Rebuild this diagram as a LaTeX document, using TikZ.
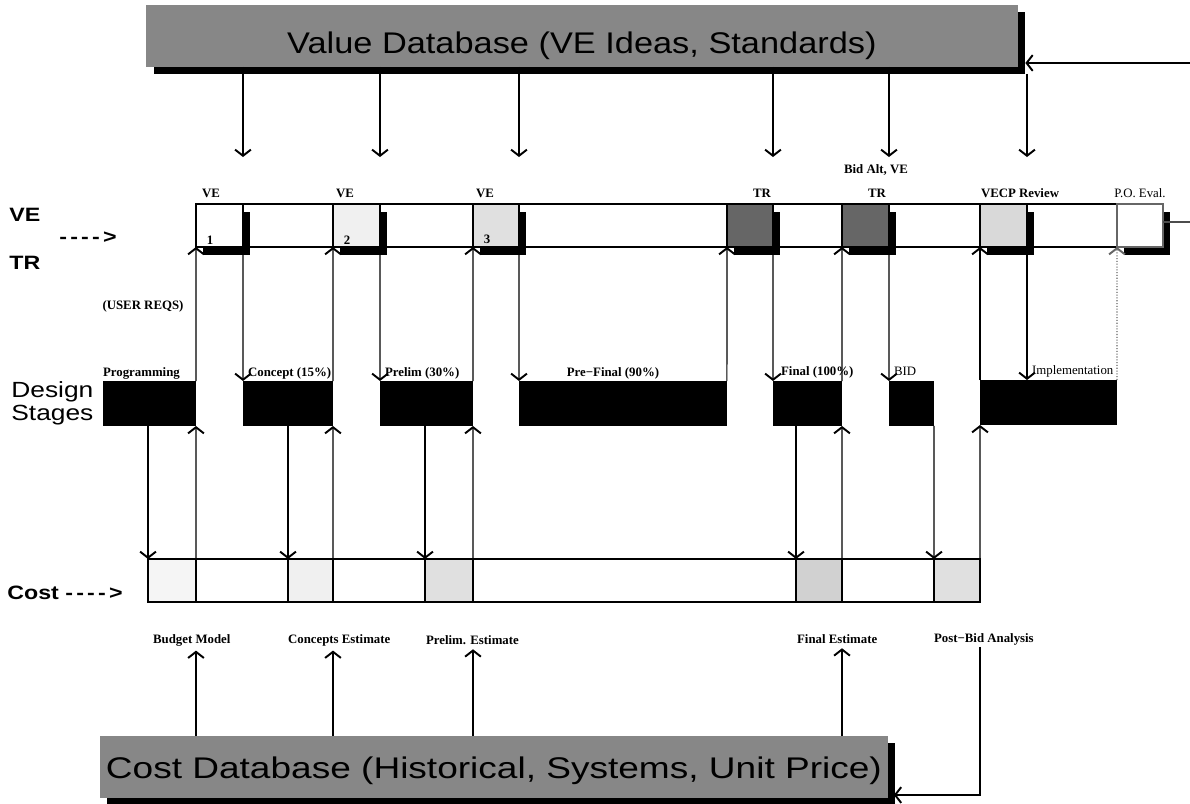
\documentclass[tikz,border=0pt]{standalone}
\usepackage{fontspec}
\setmainfont{Liberation Serif}
\newfontfamily\arialfont[FakeStretch=1.2]{Liberation Sans}
\newfontfamily\valfont[FakeStretch=1.15]{Liberation Sans}
\newfontfamily\costfont[FakeStretch=1.24]{Liberation Sans}
\usetikzlibrary{positioning,arrows.meta,shadows}

\begin{document}
\begin{tikzpicture}[x=0.02cm, y=-0.02cm,
    flow/.style={line width=0.6pt, -{Straight Barb[length=3.5pt,width=9pt,line width=1.1pt]}},
    db/.style={anchor=north west, fill=black!47, inner sep=0pt, outer sep=0pt,
      drop shadow={shadow xshift=0.15cm, shadow yshift=-0.14cm, fill=black, opacity=1}},
    stepbox/.style={anchor=north west, draw, fill=white, line width=0.6pt, minimum height=0.86cm,
      inner sep=0pt, outer sep=0pt,
      drop shadow={shadow xshift=0.14cm, shadow yshift=-0.16cm, fill=black, opacity=1}},
    stage/.style={anchor=north west, fill=black, minimum height=0.9cm, inner sep=0pt, outer sep=0pt},
    cell/.style={anchor=north west, draw, line width=0.6pt, minimum height=0.86cm, inner sep=0pt, outer sep=0pt},
    lbl/.style={font=\bfseries\fontsize{7.3}{8}\selectfont, inner sep=1pt},
    side/.style={font=\arialfont\bfseries\fontsize{11}{12}\selectfont, inner sep=0pt}]
  \fill[white] (0,0) rectangle (1190,804);
  \useasboundingbox (0,0) rectangle (1190,804);

  % databases
  \node[db, minimum width=17.44cm, minimum height=1.24cm, text height=0.7cm, text depth=0pt,
    font=\valfont\fontsize{17}{18}\selectfont] (valdb) at (146,5) {Value Database (VE Ideas, Standards)\hspace{0.55cm}};
  \node[db, minimum width=15.76cm, minimum height=1.24cm, text height=0.46cm, text depth=0pt,
    font=\costfont\fontsize{17}{18}\selectfont] (costdb) at (100,736) {Cost Database (Historical, Systems, Unit Price)};

  % VE / TR row
  \node[cell, minimum width=19.34cm] (verow) at (196,204) {};
  \node[stepbox, minimum width=0.94cm] (ve1) at (196,204) {};
  \node[stepbox, minimum width=0.94cm, fill=black!6] (ve2) at (333,204) {};
  \node[stepbox, minimum width=0.92cm, fill=black!12] (ve3) at (473,204) {};
  \node[stepbox, minimum width=0.92cm, fill=black!60] (tr1) at (727,204) {};
  \node[stepbox, minimum width=0.94cm, fill=black!60] (tr2) at (842,204) {};
  \node[stepbox, minimum width=0.94cm, fill=black!15] (vecp) at (980,204) {};
  \node[stepbox, minimum width=0.92cm, draw=black!60] (po) at (1117,204) {};

  % design stages
  \node[stage, minimum width=1.86cm] (pgm) at (103,381) {};
  \node[stage, minimum width=1.8cm] (concept) at (243,381) {};
  \node[stage, minimum width=1.86cm] (prelim) at (380,381) {};
  \node[stage, minimum width=4.16cm] (prefinal) at (519,381) {};
  \node[stage, minimum width=1.38cm] (final) at (773,381) {};
  \node[stage, minimum width=0.9cm] (bid) at (889,381) {};
  \node[stage, minimum width=2.74cm] (impl) at (980,380) {};

  % cost row
  \node[cell, minimum width=16.64cm] (costrow) at (148,559) {};
  \node[cell, minimum width=0.96cm, fill=black!4] (c1) at (148,559) {};
  \node[cell, minimum width=0.9cm, fill=black!6] (c2) at (288,559) {};
  \node[cell, minimum width=0.96cm, fill=black!12] (c3) at (425,559) {};
  \node[cell, minimum width=0.92cm, fill=black!18] (c4) at (796,559) {};
  \node[cell, minimum width=0.92cm, fill=black!12] (c5) at (934,559) {};

  % labels
  \node[side, anchor=west] (sve) at (9,215) {VE};
  \node[side, anchor=west] (sarrow) at (59,238) {-\,-\,-\,-\,>};
  \node[side, anchor=west] (str) at (9,263) {TR};
  \node[side, font=\arialfont\fontsize{12.5}{13}\selectfont, align=left, anchor=west] (sdesign) at (11,403) {Design\\Stages};
  \node[side, anchor=west] (scost) at (7,593) {Cost -\,-\,-\,-\,>};

  \node[lbl] (lve1) at (211,193) {VE};
  \node[lbl] (lve2) at (345,193) {VE};
  \node[lbl] (lve3) at (485,193) {VE};
  \node[lbl] (ltr1) at (762,193) {TR};
  \node[lbl] (ltr2) at (877,193) {TR};
  \node[lbl] (lbidalt) at (876,170) {Bid Alt, VE};
  \node[lbl] (lvecp) at (1020,193) {VECP Review};
  \node[lbl, font=\fontsize{7.3}{8}\selectfont] (lpo) at (1140,193) {P.O. Eval.};
  \node[lbl] (n1) at (210,240) {1};
  \node[lbl] (n2) at (347,240) {2};
  \node[lbl] (n3) at (487,239) {3};
  \node[lbl] (lusr) at (143,306) {(USER REQS)};

  \node[lbl, anchor=west] (lpgm) at (101,373) {Programming};
  \node[lbl, anchor=west] (lconcept) at (246,373) {Concept (15\%)};
  \node[lbl, anchor=west] (lprelim) at (383,373) {Prelim (30\%)};
  \node[lbl] (lprefinal) at (613,373) {Pre−Final (90\%)};
  \node[lbl, anchor=west] (lfinal) at (779,372) {Final (100\%)};
  \node[lbl, anchor=west, font=\fontsize{7.3}{8}\selectfont] (lbid) at (892,371) {BID};
  \node[lbl, anchor=west, font=\fontsize{7.3}{8}\selectfont] (limpl) at (1030,371) {Implementation};

  \node[lbl, anchor=west] (lbudget) at (151,640) {Budget Model};
  \node[lbl, anchor=west] (lconest) at (286,640) {Concepts Estimate};
  \node[lbl, anchor=west] (lprest) at (424,640) {Prelim. Estimate};
  \node[lbl, anchor=west] (lfinest) at (795,639) {Final Estimate};
  \node[lbl, anchor=west] (lpostbid) at (932,639) {Post−Bid Analysis};

  % value database feeds
  \coordinate[above=0.94cm of ve1.north east] (in1);
  \coordinate[above=0.94cm of ve2.north east] (in2);
  \coordinate[above=0.94cm of ve3.north east] (in3);
  \coordinate[above=0.94cm of tr1.north east] (in4);
  \coordinate[above=0.94cm of tr2.north east] (in5);
  \coordinate[above=0.94cm of vecp.north east] (in6);
  \draw[flow] (valdb.south -| in1) -- (in1);
  \draw[flow] (valdb.south -| in2) -- (in2);
  \draw[flow] (valdb.south -| in3) -- (in3);
  \draw[flow] (valdb.south -| in4) -- (in4);
  \draw[flow] (valdb.south -| in5) -- (in5);
  \draw[flow] ([yshift=-0.14cm]valdb.south -| in6) -- (in6);
  \coordinate (rimpo) at (1190,222);
  \coordinate (rimdb) at (1190,63);
  \draw[line width=0.6pt, black!70] (po.east |- rimpo) -- (rimpo);
  \draw[flow, shorten >=0.15cm] (rimdb) -- (valdb.east |- rimdb);

  % stages <-> reviews <-> costs
  \draw[flow] (c1.north west |- pgm.south) -- (c1.north west);
  \draw[flow] (c1.north east) -- (pgm.south east);
  \draw[flow] (pgm.north east) -- (ve1.south west);
  \draw[flow] (ve1.south east) -- (concept.north west);
  \draw[flow] (c2.north west |- concept.south) -- (c2.north west);
  \draw[flow] (c2.north east) -- (concept.south east);
  \draw[flow] (concept.north east) -- (ve2.south west);
  \draw[flow] (ve2.south east) -- (prelim.north west);
  \draw[flow] (c3.north west |- prelim.south) -- (c3.north west);
  \draw[flow] (c3.north east) -- (prelim.south east);
  \draw[flow] (prelim.north east) -- (ve3.south west);
  \draw[flow] (ve3.south east) -- (prefinal.north west);
  \draw[flow] (prefinal.north east) -- (tr1.south west);
  \draw[flow] (tr1.south east) -- (final.north west);
  \draw[flow] (c4.north west |- final.south) -- (c4.north west);
  \draw[flow] (c4.north east) -- (final.south east);
  \draw[flow] (final.north east) -- (tr2.south west);
  \draw[flow] (tr2.south east) -- (bid.north west);
  \draw[flow] (bid.south east) -- (c5.north west);
  \draw[flow] (c5.north east) -- (impl.south west);
  \draw[flow] (impl.north west) -- (vecp.south west);
  \draw[flow] (vecp.south east) -- (vecp.south east |- impl.north);
  \draw[flow, densely dotted, black!60] (impl.north east) -- (po.south west);

  % cost database feeds
  \draw[flow, shorten >=1.5pt] (costdb.north -| c1.north east) -- (lbudget.south -| c1.north east);
  \draw[flow, shorten >=1.5pt] (costdb.north -| c2.north east) -- (lconest.south -| c2.north east);
  \draw[flow, shorten >=1.5pt] (costdb.north -| c3.north east) -- (lprest.south -| c3.north east);
  \draw[flow, shorten >=1.5pt] (costdb.north -| c4.north east) -- (lfinest.south -| c4.north east);
  \coordinate (pbturn) at (980,795);
  \draw[flow, shorten >=0.12cm] (lpostbid.south -| pbturn) -- (pbturn) -- (costdb.east |- pbturn);
\end{tikzpicture}
\end{document}
